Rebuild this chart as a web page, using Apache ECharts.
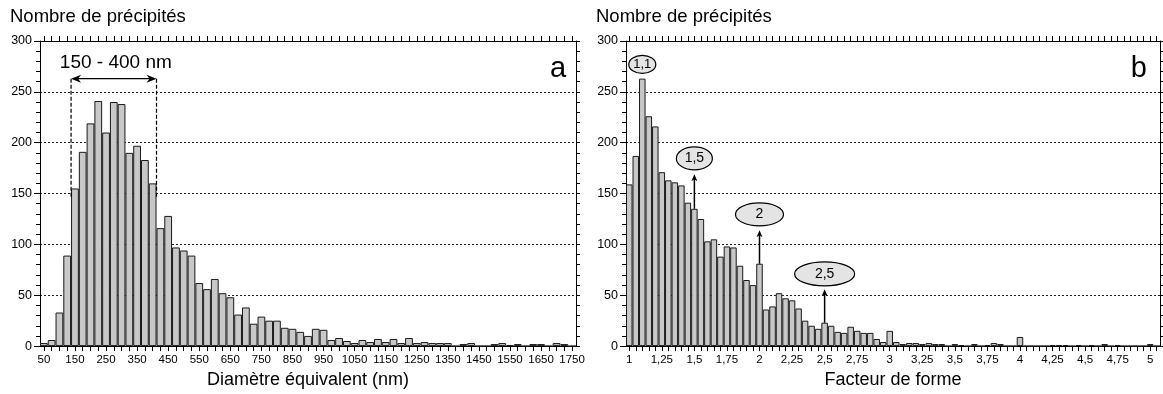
<!DOCTYPE html>
<html><head><meta charset="utf-8">
<script src="https://cdn.jsdelivr.net/npm/echarts@6/dist/echarts.min.js"></script>
<style>html,body{margin:0;padding:0;background:#fff}#c{width:1163px;height:394px}</style>
</head><body><div id="c"></div>
<script>
// ---- Panel a : equivalent diameter (nm), bins of 25 nm
const diamCategories = ['50','75','100','125','150','175','200','225','250','275','300','325','350','375','400','425','450','475','500','525','550','575','600','625','650','675','700','725','750','775','800','825','850','875','900','925','950','975','1000','1025','1050','1075','1100','1125','1150','1175','1200','1225','1250','1275','1300','1325','1350','1375','1400','1425','1450','1475','1500','1525','1550','1575','1600','1625','1650','1675','1700','1725','1750'];
const diamCounts = [3,6,33,89,155,191,219,241,210,240,238,190,197,183,160,116,128,97,94,89,62,56,66,52,48,31,38,22,29,25,25,18,17,14,10,17,16,6,8,5,3,6,4,7,4,7,3,8,3,4,3,3,3,0,2,3,0,0,2,3,1,2,0,2,2,0,3,2,0];

// ---- Panel b : shape factor, bins of 0.05
const shapeCategories = ['1','1,05','1,1','1,15','1,2','1,25','1,3','1,35','1,4','1,45',
 '1,5','1,55','1,6','1,65','1,7','1,75','1,8','1,85','1,9','1,95',
 '2','2,05','2,1','2,15','2,2','2,25','2,3','2,35','2,4','2,45',
 '2,5','2,55','2,6','2,65','2,7','2,75','2,8','2,85','2,9','2,95',
 '3','3,05','3,1','3,15','3,2','3,25','3,3','3,35','3,4','3,45',
 '3,5','3,55','3,6','3,65','3,7','3,75','3,8','3,85','3,9','3,95',
 '4','4,05','4,1','4,15','4,2','4,25','4,3','4,35','4,4','4,45',
 '4,5','4,55','4,6','4,65','4,7','4,75','4,8','4,85','4,9','4,95',
 '5','5,05'];
const shapeCounts = [159,187,263,226,216,171,163,161,158,141,135,125,103,105,88,98,97,79,65,60,81,36,39,52,47,45,37,25,20,17,23,20,14,13,19,15,13,13,7,4,15,4,2,3,3,2,3,2,2,0,2,1,0,2,0,1,3,2,0,0,9,0,0,0,0,1,1,1,0,1,0,1,0,2,0,1,0,0,0,0,2,0];

const yTickValues = [0,50,100,150,200,250,300];
const yTitle = 'Nombre de précipités';
const xTitleA = 'Diamètre équivalent (nm)';
const xTitleB = 'Facteur de forme';

// annotations (in data units)
const rangeNote = {label:'150 - 400 nm', from:'150', to:'400', arrowValue:263, textValue:279, dashBottom:146};
const peakNotes = [
  {label:'1,1', cat:'1,1', center:277, rx:13.5, ry:9, arrowTop:null},
  {label:'1,5', cat:'1,5', center:184.5, rx:18, ry:11.5, arrowTop:169},
  {label:'2', cat:'2', center:129.5, rx:24, ry:11.5, arrowTop:114},
  {label:'2,5', cat:'2,5', center:71, rx:30, ry:12, arrowTop:56}
];

const FONT = "'Liberation Sans', Arial, Helvetica, sans-serif";
const chart = echarts.init(document.getElementById('c'), null, {renderer:'canvas'});

function xBottom(grid, cats, labelInterval, name){
  return {gridIndex:grid, type:'category', data:cats, position:'bottom', boundaryGap:true,
    axisLine:{show:true, onZero:false, lineStyle:{color:'#000', width:1}},
    axisTick:{show:true, interval:0, alignWithLabel:true, length:5, lineStyle:{color:'#000'}},
    axisLabel:{interval:labelInterval, fontSize:11.5, color:'#000', margin:8, fontFamily:FONT},
    splitLine:{show:false},
    name:name, nameLocation:'middle', nameGap:24,
    nameTextStyle:{fontSize:18, color:'#000', fontFamily:FONT}};
}
function xTop(grid, cats){
  return {gridIndex:grid, type:'category', data:cats, position:'top', boundaryGap:true,
    axisLine:{show:true, onZero:false, lineStyle:{color:'#000', width:1}},
    axisTick:{show:true, interval:0, alignWithLabel:true, length:5, lineStyle:{color:'#000'}},
    axisLabel:{show:false}, splitLine:{show:false}};
}
function yLeft(grid){
  return {gridIndex:grid, type:'value', min:yTickValues[0], max:yTickValues[yTickValues.length-1], interval:50, position:'left',
    axisLine:{show:true, onZero:false, lineStyle:{color:'#000', width:1}},
    axisTick:{show:true, length:6, lineStyle:{color:'#000'}},
    minorTick:{show:true, splitNumber:5, length:4, lineStyle:{color:'#000'}},
    axisLabel:{fontSize:12.5, color:'#000', margin:8, fontFamily:FONT},
    splitLine:{show:true, lineStyle:{color:'#222', width:1, type:[2,2]}}};
}
function yRight(grid){
  return {gridIndex:grid, type:'value', min:0, max:300, interval:10, position:'right',
    axisLine:{show:true, onZero:false, lineStyle:{color:'#000', width:1}},
    axisTick:{show:true, length:4, lineStyle:{color:'#000'}},
    axisLabel:{show:false}, splitLine:{show:false}};
}
function bars(xi, yi, data){
  return {type:'bar', xAxisIndex:xi, yAxisIndex:yi, data:data, barCategoryGap:'0%', barGap:'0%',
    itemStyle:{color:'#c8c8c8', borderColor:'#1a1a1a', borderWidth:1}, animation:false, silent:true};
}

const option = {
  animation:false,
  title:[
    {text:yTitle, left:10, top:7, padding:0, textStyle:{fontSize:18.5, fontWeight:'normal', color:'#000', fontFamily:FONT}},
    {text:yTitle, left:596, top:7, padding:0, textStyle:{fontSize:18.5, fontWeight:'normal', color:'#000', fontFamily:FONT}}
  ],
  grid:[
    {left:40, top:41, width:536, height:307},
    {left:626, top:41, width:534, height:307}
  ],
  xAxis:[ xBottom(0, diamCategories, 3, xTitleA), xTop(0, diamCategories),
          xBottom(1, shapeCategories, 4, xTitleB), xTop(1, shapeCategories) ],
  yAxis:[ yLeft(0), yRight(0), yLeft(1), yRight(1) ],
  series:[ bars(0, 0, diamCounts), bars(2, 2, shapeCounts) ]
};
chart.setOption(option);

// ---- annotations, positioned through the series' scales
function px(si, catIdx, val){ return chart.convertToPixel({seriesIndex:si}, [catIdx, val]); }
const g = [];
const strokeStyle = {stroke:'#000', lineWidth:1.2};

// panel a: range 150-400 nm
(function(){
  const iA = diamCategories.indexOf(rangeNote.from), iB = diamCategories.indexOf(rangeNote.to);
  const bw = px(0,1,0)[0] - px(0,0,0)[0];
  const xl = px(0,iA,0)[0] - bw/2, xr = px(0,iB,0)[0] + bw/2;
  const yA = px(0,0,rangeNote.arrowValue)[1];
  const yD = px(0,0,rangeNote.dashBottom)[1];
  const yT = px(0,0,rangeNote.textValue)[1];
  g.push({type:'line', shape:{x1:xl, y1:yA, x2:xl, y2:yD}, style:{stroke:'#000', lineWidth:1.2, lineDash:[4,2]}, z:50});
  g.push({type:'line', shape:{x1:xr, y1:yA, x2:xr, y2:yD}, style:{stroke:'#000', lineWidth:1.2, lineDash:[4,2]}, z:50});
  g.push({type:'line', shape:{x1:xl+2, y1:yA, x2:xr-2, y2:yA}, style:strokeStyle, z:50});
  g.push({type:'polygon', shape:{points:[[xl,yA],[xl+10,yA-4],[xl+7,yA],[xl+10,yA+4]]}, style:{fill:'#000'}, z:51});
  g.push({type:'polygon', shape:{points:[[xr,yA],[xr-10,yA-4],[xr-7,yA],[xr-10,yA+4]]}, style:{fill:'#000'}, z:51});
  g.push({type:'text', x:(xl+xr)/2 + 2, y:yT, style:{text:rangeNote.label, fontSize:19, fontFamily:FONT, fill:'#000', align:'center', verticalAlign:'middle'}, z:51});
})();

// panel b: peak labels
peakNotes.forEach(function(n){
  const i = shapeCategories.indexOf(n.cat);
  const c = px(1, i, n.center);
  if (n.arrowTop !== null){
    const yb = px(1, i, shapeCounts[i])[1];
    const yt = px(1, i, n.arrowTop)[1];
    g.push({type:'line', shape:{x1:c[0], y1:yb, x2:c[0], y2:yt+3}, style:{stroke:'#000', lineWidth:1.5}, z:50});
    g.push({type:'polygon', shape:{points:[[c[0],yt],[c[0]-3,yt+7],[c[0],yt+5],[c[0]+3,yt+7]]}, style:{fill:'#000'}, z:51});
  }
  g.push({type:'ellipse', shape:{cx:c[0], cy:c[1], rx:n.rx, ry:n.ry}, style:{fill:'#e4e4e4', stroke:'#000', lineWidth:1.2}, z:50});
  g.push({type:'text', x:c[0], y:c[1], style:{text:n.label, fontSize:n.label==='1,1'?13:14, fontFamily:FONT, fill:'#000', align:'center', verticalAlign:'middle'}, z:51});
});

// panel letters
(function(){
  const pa = px(0, diamCategories.length-1, 272);
  const pb = px(1, shapeCategories.length-1, 272);
  g.push({type:'text', x:pa[0]-14, y:pa[1], style:{text:'a', fontSize:29, fontFamily:FONT, fill:'#000', align:'center', verticalAlign:'middle'}, z:51});
  g.push({type:'text', x:pb[0]-18, y:pb[1], style:{text:'b', fontSize:29, fontFamily:FONT, fill:'#000', align:'center', verticalAlign:'middle'}, z:51});
})();

chart.setOption({graphic:{elements:g}});
</script>
</body></html>
